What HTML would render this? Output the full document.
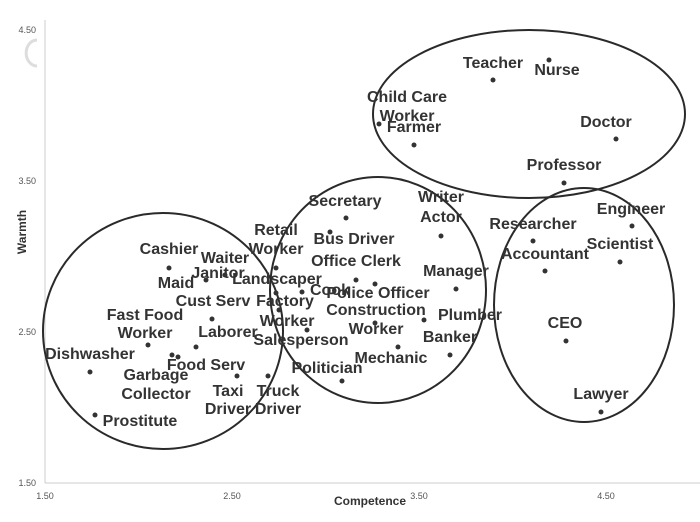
<!DOCTYPE html><html><head><style>body{margin:0;background:#fff}svg{display:block}
.l{font:bold 16px "Liberation Sans",Arial,sans-serif;fill:#333;text-anchor:middle;dominant-baseline:middle}
.t{font:9px "Liberation Sans",sans-serif;fill:#555}</style></head><body>
<svg width="700" height="522" viewBox="0 0 700 522">
<line x1="45" y1="20" x2="45" y2="483" stroke="#ccc"/><line x1="45" y1="483" x2="700" y2="483" stroke="#ccc"/>
<path d="M37 40 A10 12 0 0 0 37 66" fill="none" stroke="#ddd" stroke-width="3"/>
<g class="t" text-anchor="end"><text x="36" y="33">4.50</text><text x="36" y="184">3.50</text><text x="36" y="335">2.50</text><text x="36" y="486">1.50</text></g>
<g class="t" text-anchor="middle"><text x="45" y="499">1.50</text><text x="232" y="499">2.50</text><text x="419" y="499">3.50</text><text x="606" y="499">4.50</text></g>
<text x="370" y="505" style="font:bold 12px 'Liberation Sans',sans-serif;fill:#333" text-anchor="middle">Competence</text>
<text transform="translate(26,232) rotate(-90)" style="font:bold 12px 'Liberation Sans',sans-serif;fill:#333" text-anchor="middle">Warmth</text>
<g fill="none" stroke="#2a2a2a" stroke-width="2">
<ellipse cx="163" cy="331" rx="120" ry="118"/><ellipse cx="378" cy="290" rx="108" ry="113"/>
<ellipse cx="529" cy="114" rx="156" ry="84"/><ellipse cx="584" cy="305" rx="90" ry="117"/></g>
<g fill="#333">
<circle cx="493" cy="80" r="2.5"/><circle cx="549" cy="60" r="2.5"/><circle cx="379" cy="124" r="2.5"/><circle cx="414" cy="145" r="2.5"/><circle cx="616" cy="139" r="2.5"/><circle cx="564" cy="183" r="2.5"/><circle cx="441" cy="236" r="2.5"/><circle cx="346" cy="218" r="2.5"/><circle cx="533" cy="241" r="2.5"/><circle cx="632" cy="226" r="2.5"/><circle cx="620" cy="262" r="2.5"/><circle cx="545" cy="271" r="2.5"/><circle cx="276" cy="268" r="2.5"/><circle cx="330" cy="232" r="2.5"/><circle cx="356" cy="280" r="2.5"/><circle cx="456" cy="289" r="2.5"/><circle cx="169" cy="268" r="2.5"/><circle cx="206" cy="280" r="2.5"/><circle cx="225" cy="275" r="2.5"/><circle cx="276" cy="293" r="2.5"/><circle cx="302" cy="292" r="2.5"/><circle cx="375" cy="284" r="2.5"/><circle cx="212" cy="319" r="2.5"/><circle cx="279" cy="310" r="2.5"/><circle cx="375" cy="323" r="2.5"/><circle cx="424" cy="320" r="2.5"/><circle cx="148" cy="345" r="2.5"/><circle cx="196" cy="347" r="2.5"/><circle cx="307" cy="330" r="2.5"/><circle cx="450" cy="355" r="2.5"/><circle cx="566" cy="341" r="2.5"/><circle cx="90" cy="372" r="2.5"/><circle cx="398" cy="347" r="2.5"/><circle cx="172" cy="355" r="2.5"/><circle cx="178" cy="357" r="2.5"/><circle cx="342" cy="381" r="2.5"/><circle cx="237" cy="376" r="2.5"/><circle cx="268" cy="376" r="2.5"/><circle cx="601" cy="412" r="2.5"/><circle cx="95" cy="415" r="2.5"/></g>
<g class="l">
<text x="493" y="64">Teacher</text><text x="557" y="71">Nurse</text><text x="407" y="98">Child Care</text><text x="407" y="117">Worker</text><text x="414" y="128">Farmer</text><text x="606" y="123">Doctor</text><text x="564" y="166">Professor</text><text x="441" y="198">Writer</text><text x="441" y="218">Actor</text><text x="345" y="202">Secretary</text><text x="533" y="225">Researcher</text><text x="631" y="210">Engineer</text><text x="620" y="245">Scientist</text><text x="545" y="255">Accountant</text><text x="276" y="231">Retail</text><text x="276" y="250">Worker</text><text x="354" y="240">Bus Driver</text><text x="356" y="262">Office Clerk</text><text x="456" y="272">Manager</text><text x="169" y="250">Cashier</text><text x="225" y="259">Waiter</text><text x="218" y="274">Janitor</text><text x="176" y="284">Maid</text><text x="277" y="280">Landscaper</text><text x="330" y="291">Cook</text><text x="378" y="294">Police Officer</text><text x="213" y="302">Cust Serv</text><text x="285" y="302">Factory</text><text x="287" y="322">Worker</text><text x="376" y="311">Construction</text><text x="376" y="330">Worker</text><text x="470" y="316">Plumber</text><text x="145" y="316">Fast Food</text><text x="145" y="334">Worker</text><text x="228" y="333">Laborer</text><text x="301" y="341">Salesperson</text><text x="450" y="338">Banker</text><text x="565" y="324">CEO</text><text x="90" y="355">Dishwasher</text><text x="391" y="359">Mechanic</text><text x="206" y="366">Food Serv</text><text x="156" y="376">Garbage</text><text x="156" y="395">Collector</text><text x="327" y="369">Politician</text><text x="228" y="392">Taxi</text><text x="228" y="410">Driver</text><text x="278" y="392">Truck</text><text x="278" y="410">Driver</text><text x="601" y="395">Lawyer</text><text x="140" y="422">Prostitute</text>
</g></svg></body></html>
